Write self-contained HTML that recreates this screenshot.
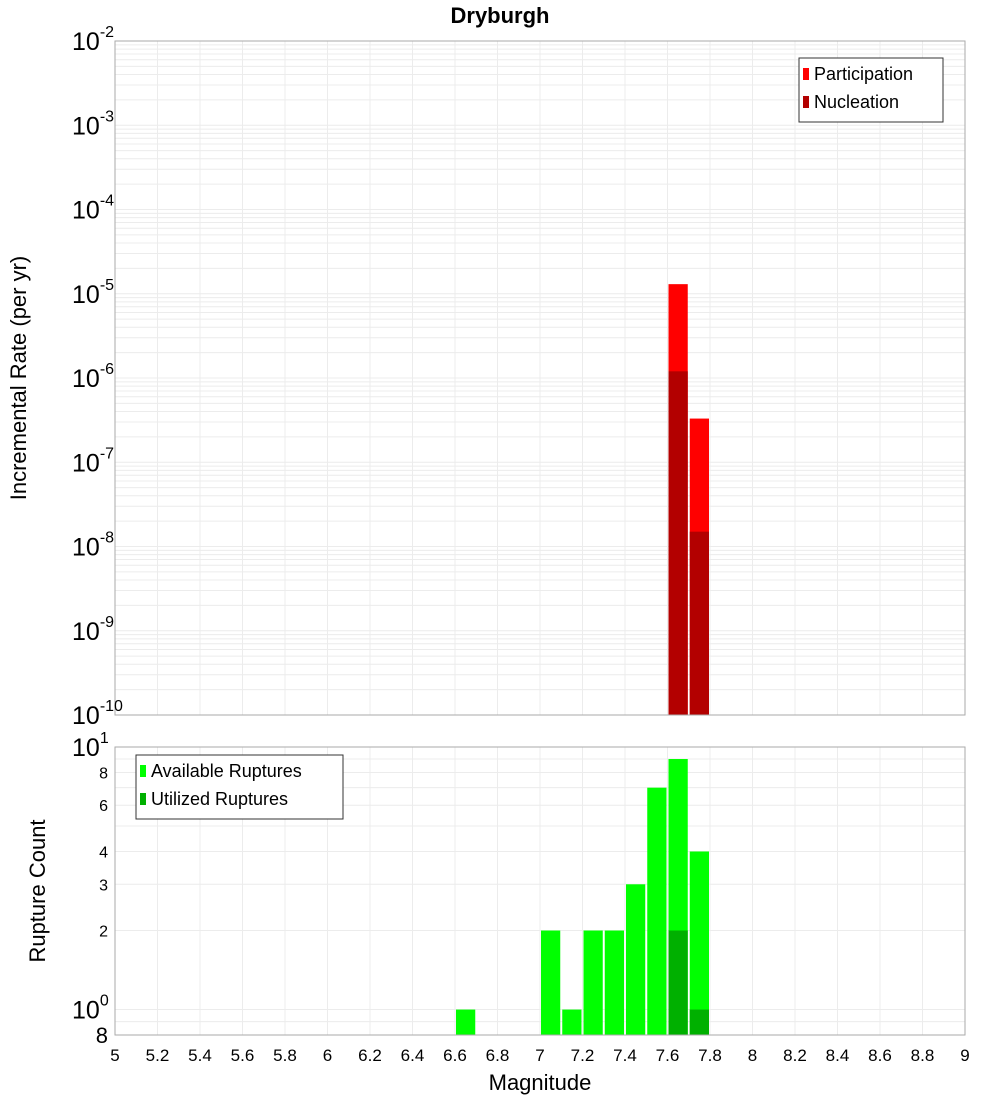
<!DOCTYPE html>
<html><head><meta charset="utf-8">
<style>
html,body{margin:0;padding:0;background:#fff;}
svg{display:block;font-family:"Liberation Sans","DejaVu Sans",sans-serif;}
</style></head>
<body>
<svg id="chart" width="1000" height="1100" viewBox="0 0 1000 1100">
<text x="500" y="23" text-anchor="middle" font-size="22" font-weight="bold">Dryburgh</text>
<g id="topPanel"></g>
<g id="botPanel"></g>
<text transform="translate(26,378) rotate(-90)" text-anchor="middle" font-size="22">Incremental Rate (per yr)</text>
<text transform="translate(45,891) rotate(-90)" text-anchor="middle" font-size="22">Rupture Count</text>
<text x="540" y="1090" text-anchor="middle" font-size="22">Magnitude</text>
</svg>
<script>
const mags = [6.65, 7.05, 7.15, 7.25, 7.35, 7.45, 7.55, 7.65, 7.75];
const available = [1, 2, 1, 2, 2, 3, 7, 9, 4];
const utilMags = [7.65, 7.75];
const utilized = [2, 1];
const rateMags = [7.65, 7.75];
const participation = [1.3e-5, 3.3e-7];
const nucleation = [1.2e-6, 1.5e-8];
const xTicks = ["5","5.2","5.4","5.6","5.8","6","6.2","6.4","6.6","6.8","7","7.2","7.4","7.6","7.8","8","8.2","8.4","8.6","8.8","9"];
const topExps = [-2,-3,-4,-5,-6,-7,-8,-9,-10];
const botMinorLabels = [8,6,4,3,2];

const NS="http://www.w3.org/2000/svg";
const L=115,R=965;
const T1=41,B1=715, T2=747,B2=1035;
const x=m=>L+(m-5)/4*(R-L);
const yTop=v=>T1+(-2-Math.log10(v))/8*(B1-T1);
const botMin=Math.log10(0.8), botMax=1;
const yBot=v=>B2-(Math.log10(v)-botMin)/(botMax-botMin)*(B2-T2);
function mk(tag,attrs,parent,txt){const e=document.createElementNS(NS,tag);for(const k in attrs)e.setAttribute(k,attrs[k]);if(txt!==undefined)e.textContent=txt;parent.appendChild(e);return e;}
const topG=document.getElementById('topPanel'), botG=document.getElementById('botPanel');

for(let d=-10;d<-2;d++){for(let k=1;k<10;k++){const yy=yTop(k*Math.pow(10,d));
 const g=mk('line',{x1:L,x2:R,y1:yy,y2:yy,stroke:'#ececec','stroke-width':1},topG);
 
 }}
[0.8,0.9,1,2,3,4,5,6,7,8,9].forEach(v=>{const yy=yBot(v);
 const g=mk('line',{x1:L,x2:R,y1:yy,y2:yy,stroke:'#ececec','stroke-width':1},botG);
 
 });
xTicks.forEach(t=>{const xx=x(parseFloat(t));
 [[topG,T1,B1],[botG,T2,B2]].forEach(([p,a,b])=>{const g=mk('line',{x1:xx,x2:xx,y1:a,y2:b,stroke:'#ececec','stroke-width':1},p);
 
 });
 const tl=mk('text',{x:xx,y:1061,'text-anchor':'middle','font-size':17},botG,t);
 
 
});
const bw=(R-L)/40-2;
rateMags.forEach((m,i)=>{
 const b=mk('rect',{x:x(m)-bw/2,y:yTop(participation[i]),width:bw,height:B1-yTop(participation[i]),fill:'#ff0000'},topG);
 
 
 const n=mk('rect',{x:x(m)-bw/2,y:yTop(nucleation[i]),width:bw,height:B1-yTop(nucleation[i]),fill:'#b30000'},topG);
 
 
});
mags.forEach((m,i)=>{
 const b=mk('rect',{x:x(m)-bw/2,y:yBot(available[i]),width:bw,height:B2-yBot(available[i]),fill:'#00ff00'},botG);
 
 
});
utilMags.forEach((m,i)=>{
 const b=mk('rect',{x:x(m)-bw/2,y:yBot(utilized[i]),width:bw,height:B2-yBot(utilized[i]),fill:'#00b000'},botG);
 
 
});
[[topG,T1,B1],[botG,T2,B2]].forEach(([p,a,b])=>{const f=mk('rect',{x:L,y:a,width:R-L,height:b-a,fill:'none',stroke:'#aaaaaa','stroke-width':1},p);
 
 });
topExps.forEach(e=>{const yy=yTop(Math.pow(10,e));
 const t=mk('text',{x:72,y:yy+9,'font-size':25},topG);
 
 
 mk('tspan',{},t,'10');
 mk('tspan',{dy:-13,'font-size':16},t,String(e));
});
[[10,'1'],[1,'0']].forEach(([v,e])=>{const yy=yBot(v);
 const t=mk('text',{x:72,y:yy+9,'font-size':25},botG);
 
 
 mk('tspan',{},t,'10');
 mk('tspan',{dy:-13,'font-size':16},t,e);
});
botMinorLabels.forEach(v=>{const t=mk('text',{x:108,y:yBot(v)+6,'text-anchor':'end','font-size':16},botG,String(v));
 
 });
const t8=mk('text',{x:108,y:B2+8,'text-anchor':'end','font-size':22},botG,'8');


function legend(p,x0,y0,w,items){
 const g=mk('g',{},p);
 
 
 mk('rect',{x:x0,y:y0,width:w,height:8+items.length*28,fill:'#fff',stroke:'#333','stroke-width':1},g);
 items.forEach(([lab,c],i)=>{
  const sw=mk('rect',{x:x0+4,y:y0+10+i*28,width:6,height:12,fill:c},g);
  
  
  const tx=mk('text',{x:x0+15,y:y0+22+i*28,'font-size':18},g,lab);
  
  
 });
}
legend(topG,799,58,144,[['Participation','#ff0000'],['Nucleation','#b30000']]);
legend(botG,136,755,207,[['Available Ruptures','#00ff00'],['Utilized Ruptures','#00b000']]);
</script>
</body></html>
